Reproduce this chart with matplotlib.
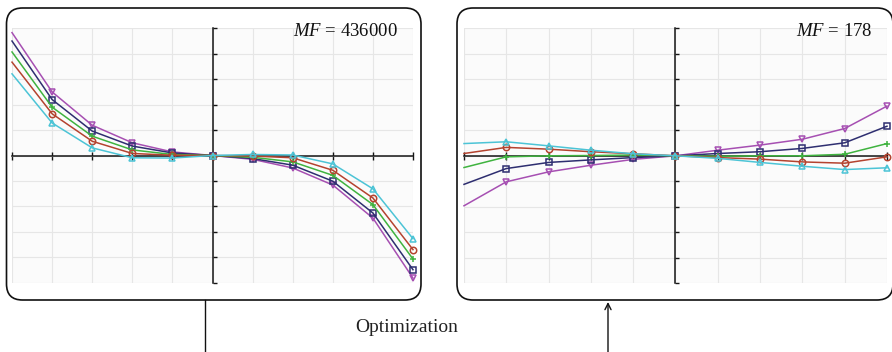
import matplotlib
matplotlib.use("Agg")
import matplotlib.pyplot as plt
from matplotlib.patches import FancyBboxPatch

plt.rcParams['mathtext.fontset'] = 'custom'
plt.rcParams['mathtext.it'] = 'Liberation Serif:italic'
plt.rcParams['mathtext.rm'] = 'Liberation Serif'

# Sample positions shared by every curve
x_vals = [-5, -4, -3, -2, -1, 0, 1, 2, 3, 4, 5]

# Before optimization (MF = 436000)
before_violet = [4.83, 2.50, 1.19, 0.50, 0.14, 0.0, -0.15, -0.49, -1.16, -2.46, -4.82]
before_navy   = [4.50, 2.20, 0.96, 0.37, 0.10, 0.0, -0.12, -0.38, -1.01, -2.26, -4.49]
before_green  = [4.07, 1.90, 0.76, 0.22, 0.04, 0.0, -0.07, -0.25, -0.78, -1.93, -4.07]
before_red    = [3.67, 1.64, 0.56, 0.08, 0.01, 0.0, -0.02, -0.09, -0.58, -1.67, -3.70]
before_cyan   = [3.21, 1.28, 0.30, -0.09, -0.10, 0.0, 0.04, 0.02, -0.33, -1.31, -3.27]

# After optimization (MF = 178)
after_violet = [-1.96, -1.02, -0.63, -0.37, -0.14, 0.0, 0.22, 0.42, 0.65, 1.07, 1.95]
after_navy   = [-1.12, -0.50, -0.26, -0.16, -0.07, 0.0, 0.09, 0.16, 0.29, 0.51, 1.16]
after_green  = [-0.46, -0.04, 0.00, 0.01, 0.03, 0.0, -0.02, 0.00, 0.00, 0.06, 0.48]
after_red    = [0.09, 0.33, 0.26, 0.16, 0.08, 0.0, -0.07, -0.13, -0.24, -0.29, -0.04]
after_cyan   = [0.48, 0.55, 0.39, 0.22, 0.08, 0.0, -0.10, -0.26, -0.41, -0.54, -0.47]

panel_labels = ["436000", "178"]
caption = "Optimization"

W, H = 892, 352
fig = plt.figure(figsize=(W / 100, H / 100), dpi=100)

def px_axes(x0, y0, x1, y1, **kw):
    return fig.add_axes([x0 / W, 1 - y1 / H, (x1 - x0) / W, (y1 - y0) / H], **kw)

styles = [
    ("#a64fb2", "v"),
    ("#2e2e70", "s"),
    ("#3fb33f", "+"),
    ("#b4432f", "o"),
    ("#4cc4d6", "^"),
]

def draw_panel(ax, series):
    ax.set_facecolor("#fbfbfb")
    ax.set_xlim(-5, 5)
    ax.set_ylim(-5, 5)
    ax.set_xticks(range(-5, 6))
    ax.set_yticks(range(-5, 6))
    ax.grid(True, color="#e6e6e6", linewidth=0.8)
    ax.set_axisbelow(True)
    for s in ("top", "right"):
        ax.spines[s].set_visible(False)
    ax.spines["left"].set_position("zero")
    ax.spines["bottom"].set_position("zero")
    for s in ("left", "bottom"):
        ax.spines[s].set_linewidth(1.1)
        ax.spines[s].set_color("#151515")
        ax.spines[s].set_zorder(1.5)
    ax.tick_params(axis="x", direction="inout", length=5.5, width=1.0,
                   color="#151515", labelbottom=False)
    ax.tick_params(axis="y", direction="in", length=3, width=1.0,
                   color="#151515", labelleft=False)
    for (color, marker), ys in zip(styles, series):
        ax.plot(x_vals, ys, color=color, linewidth=1.1, marker=marker,
                markevery=list(range(1, len(x_vals))), markersize=4.6,
                markerfacecolor="none", markeredgecolor=color,
                markeredgewidth=1.1, clip_on=False, zorder=3)

ax_left = px_axes(12, 28.3, 413, 282.7)
draw_panel(ax_left, [before_violet, before_navy, before_green, before_red, before_cyan])

ax_right = px_axes(464, 28.3, 887, 283.3)
draw_panel(ax_right, [after_violet, after_navy, after_green, after_red, after_cyan])

# Overlay in pixel coordinates for the frames, connectors and captions
ov = fig.add_axes([0, 0, 1, 1], zorder=5)
ov.set_xlim(0, W)
ov.set_ylim(H, 0)
ov.axis("off")
ov.patch.set_alpha(0)

for (bx0, by0, bx1, by1) in [(6.5, 8, 421, 300), (457, 8, 893, 300)]:
    ov.add_patch(FancyBboxPatch((bx0, by0), bx1 - bx0, by1 - by0,
                                boxstyle="round,pad=0,rounding_size=16",
                                fill=False, edgecolor="#111111", linewidth=1.2))

ov.text(398, 36.5, r"$MF$ = " + panel_labels[0], ha="right", va="baseline",
        fontsize=13.5, family="Liberation Serif", color="#111111")
ov.text(873, 35.5, r"$MF$ = " + panel_labels[1], ha="right", va="baseline",
        fontsize=13.5, family="Liberation Serif", color="#111111")

ov.plot([205, 205], [300, H], color="#111111", linewidth=1.0)
ov.annotate("", xy=(608, 302), xytext=(608, H),
            arrowprops=dict(arrowstyle="->", color="#111111", linewidth=1.0,
                            mutation_scale=11, shrinkA=0, shrinkB=0))
ov.text(406.7, 327, caption, ha="center", va="center", fontsize=14,
        family="Liberation Serif", color="#222222")

fig.savefig("out.png", dpi=100)
